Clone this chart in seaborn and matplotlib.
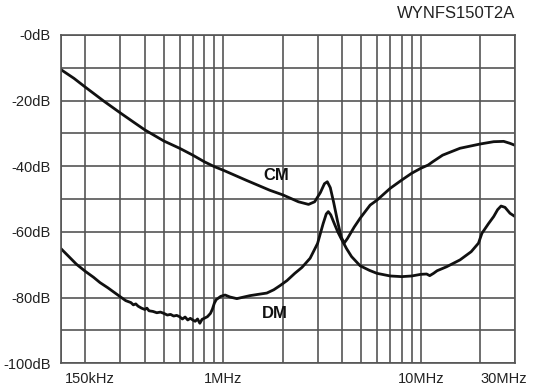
import matplotlib
matplotlib.use('Agg')
import matplotlib.pyplot as plt
import matplotlib.transforms as mtransforms
import pandas as pd
import seaborn as sns

# frequency in MHz, attenuation in dB
cm_freq = [0.15, 0.175, 0.2, 0.25, 0.3, 0.35, 0.4, 0.5, 0.6, 0.7, 0.8, 0.9, 1.0,
           1.3, 1.72, 2.0, 2.4, 2.7, 2.9, 3.1, 3.25, 3.36, 3.48, 3.62, 3.78, 3.95,
           4.09, 4.25, 4.6, 4.93, 5.54, 6.0, 7.0, 8.0, 9.0, 10.0, 10.9, 11.5, 12.9,
           15.8, 20.0, 23.4, 26.3, 28.3, 30.0]
cm_db = [-10.5, -13.2, -15.9, -20.3, -23.7, -26.5, -28.9, -32.3, -34.5, -36.6, -38.6,
         -40.1, -41.2, -44.2, -47.3, -48.7, -50.8, -51.6, -50.8, -48.0, -45.3, -44.7,
         -46.5, -51.0, -56.5, -61.5, -63.4, -62.0, -58.5, -55.8, -51.8, -50.3, -46.7,
         -44.2, -42.1, -40.6, -39.6, -38.6, -36.6, -34.5, -33.2, -32.5, -32.4, -33.0,
         -33.6]

dm_freq = [0.15, 0.165, 0.18, 0.2, 0.22, 0.237, 0.26, 0.28, 0.3, 0.32, 0.34, 0.35,
           0.36, 0.37, 0.385, 0.4, 0.41, 0.42, 0.44, 0.46, 0.48, 0.5, 0.52, 0.54,
           0.56, 0.58, 0.6, 0.62, 0.64, 0.66, 0.68, 0.7, 0.72, 0.74, 0.76, 0.78,
           0.8, 0.83, 0.86, 0.88, 0.9, 0.92, 0.94, 0.97, 1.02, 1.08, 1.17, 1.25,
           1.36, 1.5, 1.66, 1.8, 1.94, 2.1, 2.3, 2.5, 2.75, 3.0, 3.2, 3.32, 3.4,
           3.5, 3.65, 3.8, 3.95, 4.2, 4.46, 4.93, 5.5, 6.0, 7.0, 8.0, 9.0, 10.0,
           10.7, 11.1, 11.6, 12.1, 13.5, 15.8, 18.0, 19.6, 20.4, 22.0, 23.4, 24.5,
           25.5, 26.7, 28.3, 30.0]
dm_db = [-65.0, -67.5, -69.8, -72.0, -73.8, -75.4, -77.0, -78.4, -79.7, -80.9, -81.5,
         -82.2, -81.9, -82.6, -83.2, -83.6, -83.2, -84.0, -84.2, -84.6, -84.4, -84.8,
         -85.3, -85.1, -85.6, -85.4, -85.8, -86.5, -85.9, -86.8, -86.3, -86.8, -87.2,
         -86.5, -87.8, -86.6, -86.3, -85.8, -84.8, -83.5, -81.7, -80.6, -80.2, -79.6,
         -79.2, -79.8, -80.3, -79.9, -79.4, -79.0, -78.6, -77.6, -76.3, -74.8, -72.6,
         -70.8, -68.0, -63.5, -57.5, -54.5, -53.8, -54.8, -57.5, -60.0, -62.0, -65.0,
         -67.5, -70.3, -71.7, -72.6, -73.4, -73.6, -73.4, -72.9, -72.8, -73.3, -72.6,
         -71.8, -70.6, -68.5, -66.0, -63.4, -60.4, -57.5, -55.3, -53.2, -52.1, -52.5,
         -54.3, -55.3]

x_ticks = [0.15, 1, 10, 30]
x_labels = ["150kHz", "1MHz", "10MHz", "30MHz"]
x_grid = [0.2, 0.3, 0.4, 0.5, 0.6, 0.7, 0.8, 0.9, 2, 3, 4, 5, 6, 7, 8, 9, 20]
y_ticks = [0, -20, -40, -60, -80, -100]
y_labels = ["-0dB", "-20dB", "-40dB", "-60dB", "-80dB", "-100dB"]
y_grid = [-10, -30, -50, -70, -90]

df = pd.concat([
    pd.DataFrame({"freq": cm_freq, "db": cm_db, "mode": "CM"}),
    pd.DataFrame({"freq": dm_freq, "db": dm_db, "mode": "DM"}),
])

sns.set_style("white")
plt.rcParams['font.family'] = ['Liberation Sans', 'DejaVu Sans']

fig = plt.figure(figsize=(5.34, 3.87), dpi=100)
ax = fig.add_axes([0.1137, 0.0612, 0.8507, 0.8484])

sns.lineplot(data=df, x="freq", y="db", units="mode", estimator=None,
             color="#111111", linewidth=2.0, sort=False, ax=ax)

ax.set_xscale("log")
ax.set_xlim(0.15, 30)
ax.set_ylim(-100, 0)

ax.set_xticks(x_ticks)
ax.set_xticklabels(x_labels)
ax.set_xticks(x_grid, minor=True)
ax.set_xticklabels([], minor=True)
ax.set_yticks(y_ticks)
ax.set_yticklabels(y_labels)
ax.set_yticks(y_grid, minor=True)

ax.grid(True, which="both", color="#555555", linewidth=1.2)
ax.set_axisbelow(True)
ax.tick_params(which="both", length=0, labelsize=10.5, colors="#222222")
ax.tick_params(axis="x", pad=6)
ax.tick_params(axis="y", pad=7)
for s in ax.spines.values():
    s.set_color("#555555")
    s.set_linewidth(1.2)

ax.set_xlabel("")
ax.set_ylabel("")

# nudge the edge tick labels like the original sheet
labels = ax.get_xticklabels()
labels[0].set_horizontalalignment("left")
labels[0].set_transform(labels[0].get_transform() +
                        mtransforms.ScaledTranslation(4 / 100, 0, fig.dpi_scale_trans))
labels[-1].set_transform(labels[-1].get_transform() +
                         mtransforms.ScaledTranslation(-11 / 100, 0, fig.dpi_scale_trans))

ax.text(1.85, -42.9, "CM", fontsize=12, fontweight="bold", ha="center", va="center",
        color="#111111")
ax.text(1.83, -84.7, "DM", fontsize=12, fontweight="bold", ha="center", va="center",
        color="#111111")

fig.text(515 / 534, 1 - 14 / 387, "WYNFS150T2A", fontsize=12, ha="right", va="center",
         color="#222222")

fig.savefig("out.png", dpi=100)
